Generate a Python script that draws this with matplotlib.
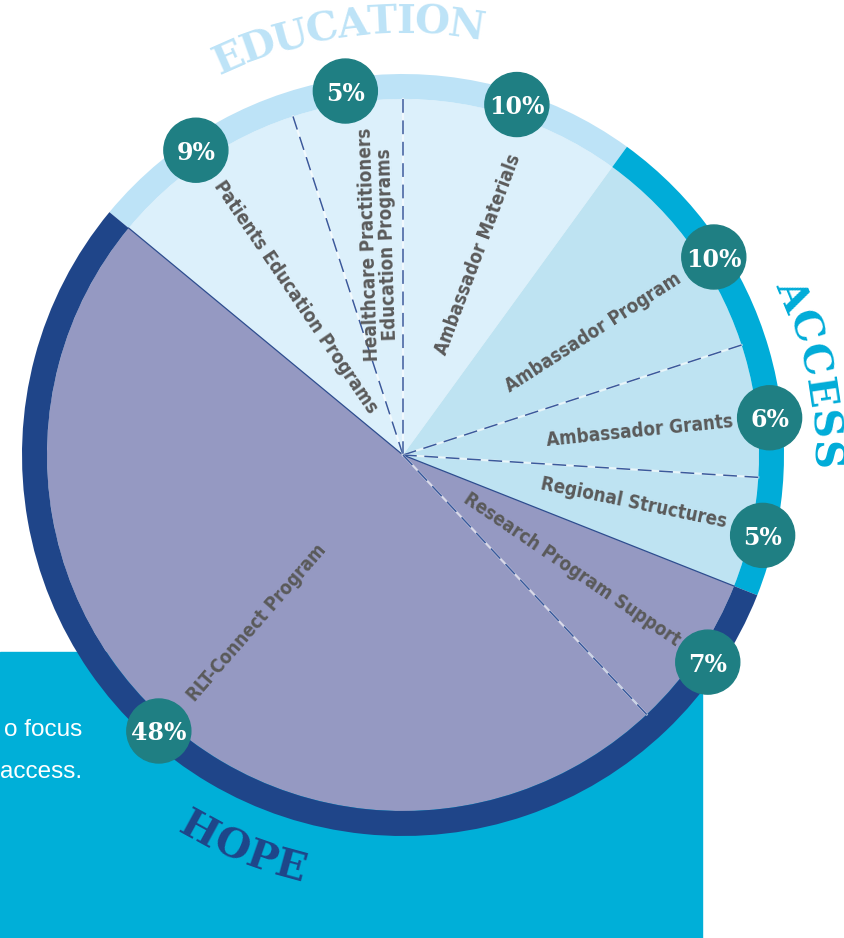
import numpy as np
import matplotlib
matplotlib.use('Agg')
import matplotlib.pyplot as plt
from matplotlib.patches import Circle, Rectangle
from matplotlib.font_manager import FontProperties, fontManager

# slices, read clockwise starting at the upper left edge of the big purple one
slices = ['Patients Education Programs',
          'Healthcare Practitioners\nEducation Programs',
          'Ambassador Materials', 'Ambassador Program', 'Ambassador Grants',
          'Regional Structures', 'Research Program Support', 'RLT-Connect Program']
shares = [9, 5, 10, 10, 6, 5, 7, 48]
groups = ['EDUCATION', 'EDUCATION', 'EDUCATION', 'ACCESS', 'ACCESS', 'ACCESS',
          'HOPE', 'HOPE']
group_names = ['EDUCATION', 'ACCESS', 'HOPE']
body_text = ['o focus', 'access.']

# styling
fill = {'EDUCATION': '#dcf0fb', 'ACCESS': '#bee3f2', 'HOPE': '#9599c2'}
ring = {'EDUCATION': '#bde3f7', 'ACCESS': '#00acd8', 'HOPE': '#1f4589'}
teal = '#1f7f83'
grey = '#5a5a5a'
navy = '#3a5a9c'

cx, cy = 403, 483
r_in, r_out = 356, 381
start = 140.4

# small hand nudges, like the designer did
label_shift = [0, -2.2, -2.5, -3.3, -1.4, 0.9, 0, 2.2]
label_rad = [191, 212, 214, 226, 238, 236, 204, 222]
badge_shift = [0, 0, 0, -3.5, -1.4, 0, 0, 1.7]
edge_style = ['solid', 'dash', 'dash', None, 'dash', 'dash', 'solid', 'dash']  # leading edge of each slice


def narrow_bold(size):
    # look for a condensed sans bold, the labels are set in one
    wanted = ['DejaVuSansCondensed-Bold', 'LiberationSansNarrow-Bold', 'RobotoCondensed-Bold',
              'OpenSans_Condensed-Bold', 'OpenSansCondensed-Bold']
    files = {f.fname.split('/')[-1].rsplit('.', 1)[0]: f.fname for f in fontManager.ttflist}
    for w in wanted:
        if w in files:
            return FontProperties(fname=files[w], size=size)
    return FontProperties(family='Roboto', weight='bold', size=size)


fig = plt.figure(figsize=(8.45, 9.38), dpi=100)
ax = fig.add_axes([0, 0, 1, 1])

ax.add_patch(Rectangle((0, 0), 702, 286, color='#00afd8', zorder=0))
for i, t in enumerate(body_text):
    ax.text(82, 208 - i * 42, t, ha='right', va='center', color='white',
            fontsize=17.5, family='Liberation Sans', zorder=1)

ax.pie(shares, colors=[fill[g] for g in groups], startangle=start, counterclock=False,
       radius=r_in, center=(cx, cy), wedgeprops=dict(linewidth=0, zorder=2))

group_tot = [sum(s for s, g in zip(shares, groups) if g == n) for n in group_names]
ax.pie(group_tot, colors=[ring[n] for n in group_names], startangle=start,
       counterclock=False, radius=r_out, center=(cx, cy),
       wedgeprops=dict(width=r_out - r_in, linewidth=0, zorder=2))

total = sum(shares)
cum = np.cumsum([0] + shares)
edges = start - 360 * cum[:-1] / total
mids = start - 360 * (cum[:-1] + np.array(shares) / 2) / total

for a, st in zip(edges, edge_style):
    if st is None:
        continue
    t = np.radians(a)
    xs = [cx, cx + r_in * np.cos(t)]
    ys = [cy, cy + r_in * np.sin(t)]
    if st == 'dash':
        ax.plot(xs, ys, color='white', lw=1.6, alpha=0.6, zorder=3)
        ax.plot(xs, ys, color=navy, lw=1.1, ls=(0, (9, 5)), zorder=3)
    else:
        ax.plot(xs, ys, color='#2d4d8f', lw=0.9, zorder=3)

lab_fp = narrow_bold(13.5)
for name, m, ds, rr in zip(slices, mids, label_shift, label_rad):
    a = (m + ds + 180) % 360 - 180
    t = np.radians(a)
    if a > 105:
        rot = a - 180
    elif a < -90:
        rot = a + 180
    else:
        rot = a
    if '\n' in name:
        rot = a - 5
    ax.text(cx + rr * np.cos(t), cy + rr * np.sin(t), name, rotation=rot,
            rotation_mode='anchor', ha='center', va='center', multialignment='center',
            fontproperties=lab_fp, color=grey, linespacing=0.95, zorder=4)

badge_fp = FontProperties(family='DejaVu Serif', weight='bold', size=17)
rb = (r_in + r_out) / 2
for s, m, ds in zip(shares, mids, badge_shift):
    t = np.radians(m + ds)
    bx, by = cx + rb * np.cos(t), cy + rb * np.sin(t)
    ax.add_patch(Circle((bx, by), 32, color=teal, zorder=5))
    ax.text(bx, by, f'{s}%', ha='center', va='center_baseline', color='white',
            fontproperties=badge_fp, zorder=6)


def arc_text(s, mid, r, fp, color, clockwise, track=0.0):
    renderer = fig.canvas.get_renderer()
    widths = [renderer.get_text_width_height_descent(c, fp, ismath=False)[0] for c in s]
    span = sum(widths) + track * (len(s) - 1)
    sign = -1 if clockwise else 1
    pos = -span / 2
    for c, w in zip(s, widths):
        a = mid + sign * np.degrees((pos + w / 2) / r)
        t = np.radians(a)
        rot = a - 90 if clockwise else a + 90
        ax.text(cx + r * np.cos(t), cy + r * np.sin(t), c, rotation=rot,
                rotation_mode='anchor', ha='center', va='center', fontproperties=fp,
                color=color, zorder=4)
        pos += w + track


title_fp = FontProperties(family='DejaVu Serif', weight='bold', size=29)
arc_text('EDUCATION', 97.5, 433, title_fp, ring['EDUCATION'], True, -1)
arc_text('ACCESS', 11.2, 420, title_fp, ring['ACCESS'], True, 2)
arc_text('HOPE', 247.8, 428, title_fp, ring['HOPE'], False, 0)

ax.set_xlim(0, 845)
ax.set_ylim(0, 938)
ax.set_aspect('equal')
ax.axis('off')
fig.savefig('out.png', dpi=100, facecolor='white')
